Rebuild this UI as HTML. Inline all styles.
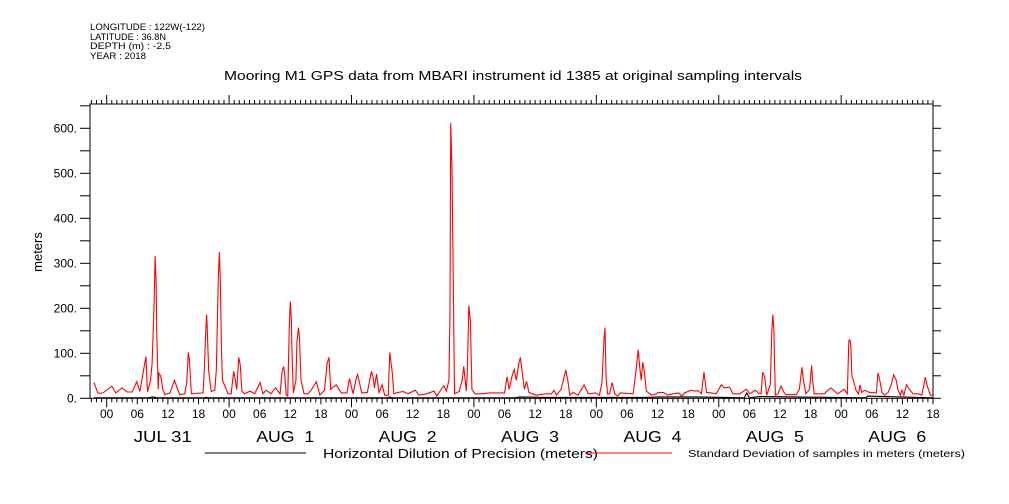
<!DOCTYPE html>
<html><head><meta charset="utf-8">
<style>
html,body{margin:0;padding:0;background:#fff;}
svg{display:block;font-family:"Liberation Sans",sans-serif;}
</style></head>
<body>
<svg id="chart" width="1009" height="504" viewBox="0 0 1009 504" xmlns="http://www.w3.org/2000/svg">
<g font-size="9" fill="#000">
<text x="90" y="30" textLength="115" lengthAdjust="spacingAndGlyphs">LONGITUDE : 122W(-122)</text>
<text x="90" y="40" textLength="76" lengthAdjust="spacingAndGlyphs">LATITUDE : 36.8N</text>
<text x="90" y="49" textLength="81" lengthAdjust="spacingAndGlyphs">DEPTH (m) : -2.5</text>
<text x="90" y="59" textLength="56" lengthAdjust="spacingAndGlyphs">YEAR : 2018</text>
</g>
<text x="224" y="80" font-size="13" textLength="578" lengthAdjust="spacingAndGlyphs">Mooring M1 GPS data from MBARI instrument id 1385 at original sampling intervals</text>
<text transform="translate(42,252) rotate(-90)" font-size="13" text-anchor="middle">meters</text>
<g id="axes"></g>
<g id="series"></g>
<g>
<line x1="205" y1="453" x2="306" y2="453" stroke="#000" stroke-width="1"/>
<text x="323" y="458" font-size="13" textLength="275" lengthAdjust="spacingAndGlyphs">Horizontal Dilution of Precision (meters)</text>
<line x1="585" y1="453" x2="672" y2="453" stroke="#f00" stroke-width="1"/>
<text x="688" y="457" font-size="10.5" textLength="277" lengthAdjust="spacingAndGlyphs">Standard Deviation of samples in meters (meters)</text>
</g>
</svg>
<script>
// hours since JUL 31 00:00
const redTimes = [-2.5,-1.7,-0.7,1.0,1.8,3.0,4.0,5.0,5.9,6.5,7.5,7.7,8.0,8.6,8.9,9.3,9.5,9.7,9.8,10.1,10.2,10.6,11.0,11.4,12.4,13.3,13.6,14.3,15.3,15.7,16.0,16.2,16.6,18.9,19.1,19.4,19.6,19.7,20.0,20.5,21.2,21.5,21.7,21.9,22.1,22.3,22.5,22.7,23.8,24.4,24.9,25.1,25.5,25.9,26.2,26.5,27.0,28.1,29.0,30.1,30.6,31.3,32.2,33.1,34.0,34.4,34.7,34.9,35.2,35.5,35.8,36.0,36.2,36.3,36.6,37.1,37.3,37.6,37.8,38.1,38.7,39.4,40.1,41.1,41.8,42.7,43.2,43.6,43.9,45.0,46.0,47.1,47.6,48.3,49.0,49.2,50.0,51.1,51.9,52.2,52.5,52.9,53.4,54.0,54.5,55.2,55.5,56.0,56.3,57.1,58.1,59.1,60.5,61.2,62.7,64.2,64.7,66.1,66.6,67.1,67.3,67.45,67.7,67.9,68.1,68.2,69.1,69.7,70.0,70.5,70.7,70.9,71.0,71.3,71.6,72.2,73.5,75.1,78.0,78.5,78.9,79.5,79.9,80.3,80.8,81.1,81.5,81.9,82.3,82.8,84.2,86.2,87.2,87.7,88.2,89.1,90.0,90.4,90.8,91.4,92.4,93.6,94.4,95.8,96.6,97.1,97.5,97.7,97.9,98.2,98.6,99.1,99.6,100.2,100.7,103.2,103.8,104.2,104.5,104.8,105.1,105.4,105.8,106.8,107.8,108.1,109.1,110.0,110.9,112.2,112.7,113.3,114.6,115.3,115.9,116.6,117.1,117.6,118.5,119.5,120.5,121.1,122.1,122.8,124.1,125.4,126.1,127.2,127.7,128.3,128.6,129.0,129.4,130.1,130.4,130.6,130.8,130.9,131.1,131.6,132.2,132.8,133.2,135.2,135.8,136.3,136.6,137.1,137.8,138.2,138.4,138.7,140.7,141.4,142.0,142.7,143.3,144.6,145.2,145.5,145.7,145.9,146.1,146.4,146.9,147.4,147.7,148.0,148.6,149.6,150.9,151.2,151.5,152.0,152.5,153.2,153.8,154.3,154.8,155.1,155.6,155.9,156.3,156.8,157.5,158.1,159.1,159.8,160.5,160.8,161.5,162.0];
const redValues = [35,11,12,27,12,23,14,14,37,15,80,93,14,40,77,210,316,256,155,20,56,49,20,8,12,40,30,8,10,35,102,87,10,12,54,142,186,160,60,15,18,64,170,272,325,252,108,40,10,10,60,48,20,91,73,16,10,16,10,35,10,18,10,23,10,60,71,54,7,5,160,215,178,114,12,40,126,157,133,40,10,10,18,37,7,18,77,91,20,30,12,12,44,10,48,53,12,13,60,48,23,54,13,30,7,7,102,56,10,13,15,10,18,7,10,16,5,28,16,40,186,612,510,310,102,10,15,40,71,16,58,155,206,173,20,10,10,12,12,48,20,51,64,40,77,91,54,20,38,13,7,10,10,18,7,20,63,40,7,13,7,30,10,12,7,35,133,157,48,10,10,35,10,5,12,10,64,108,69,40,80,60,16,7,10,13,13,7,10,12,5,12,18,16,17,10,58,13,12,10,30,23,25,10,10,20,10,18,12,10,58,48,7,30,149,186,155,96,7,10,27,13,8,8,20,69,40,10,20,73,40,10,10,18,23,16,10,20,10,128,130,116,48,40,18,10,30,13,18,13,12,56,44,13,7,13,30,52,40,20,7,18,7,30,18,10,10,7,47,30,7,7];
const blackTimes = [-2.5,8.0,9.0,10.0,19.0,19.5,20.0,55.0,55.5,56.0,80.0,81.0,86.0,97.0,105.5,108.5,115.5,125.0,125.5,126.0,128.0,148.8,149.2,162.0];
const blackValues = [1,1,3,1,1,2,1,1,3,1,1,3,2,2,2,3,3,1,12,1,4,1,5,1];
const yTicks = [0,100,200,300,400,500,600];
const yTickLabels = ["0.","100.","200.","300.","400.","500.","600."];
const dayLabels = ["JUL 31","AUG  1","AUG  2","AUG  3","AUG  4","AUG  5","AUG  6"];
const hourLabels = ["00","06","12","18"];

const X0=90, X1=933, Y0=398.3, Y1=104;
const T0=-3.27, T1=162.0;
function xs(t){return X0+(t-T0)/(T1-T0)*(X1-X0);}
function ys(v){return Y0-v*0.45;}
const NS="http://www.w3.org/2000/svg";
const axes=document.getElementById('axes'), ser=document.getElementById('series');
function el(tag,attrs,parent){const e=document.createElementNS(NS,tag);for(const k in attrs)e.setAttribute(k,attrs[k]);parent.appendChild(e);return e;}

const frame=el('rect',{x:X0,y:Y1,width:X1-X0,height:Y0-Y1,fill:'none',stroke:'#000','stroke-width':1},axes);



for(let v=0; v<=650; v+=50){
  const y=ys(v); if(y<Y1) break;
  const tl=el('line',{x1:X0-10,y1:y,x2:X0,y2:y,stroke:'#000'},axes);
  
  
  const tr=el('line',{x1:X1,y1:y,x2:X1+8,y2:y,stroke:'#000'},axes);
  
  
}
yTicks.forEach((v,i)=>{
  const t=el('text',{x:77,y:ys(v)+4,'font-size':12,'text-anchor':'end'},axes);
  t.textContent=yTickLabels[i];
  
  
});
for(let h=-3; h<=162; h++){
  const x=xs(h); if(x<X0-0.5) continue;
  const major=(h%24===0);
  const six=(h%6===0);
  const lb=major?9:(six?6:4);
  const b=el('line',{x1:x,y1:Y0,x2:x,y2:Y0+lb,stroke:'#000'},axes);
  
  
  const tp=el('line',{x1:x,y1:Y1,x2:x,y2:Y1-(major?9:4),stroke:'#000'},axes);
  
  
  if(six){
    const t=el('text',{x:x,y:418,'font-size':12,'text-anchor':'middle'},axes);
    t.textContent=hourLabels[((h%24)+24)%24/6];
    
    
  }
}
dayLabels.forEach((d,i)=>{
  const cx=xs(i*24+11);
  const t=el('text',{x:cx-29,y:442,'font-size':16,textLength:58,lengthAdjust:'spacingAndGlyphs','xml:space':'preserve'},axes);
  t.style.whiteSpace='pre';
  t.textContent=d;
  
  
});
function path(times,vals,color,name){
  let d='';
  times.forEach((t,i)=>{d+=(i?'L':'M')+xs(t).toFixed(2)+','+ys(vals[i]).toFixed(2);});
  const p=el('path',{d:d,fill:'none',stroke:color,'stroke-width':1.1},ser);
  
  
}
path(blackTimes,blackValues,'#000','hdop-line');
path(redTimes,redValues,'#f00','stddev-line');
</script>
</body></html>
